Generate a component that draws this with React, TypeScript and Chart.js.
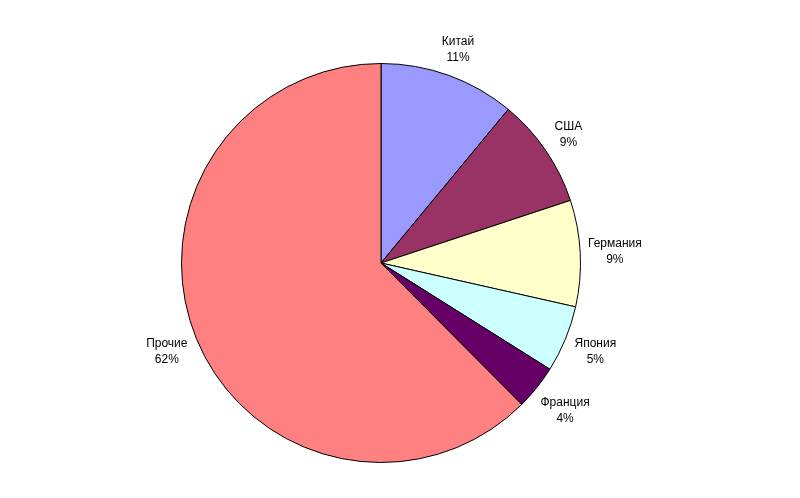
import React, { useEffect, useRef } from "react";
import { Chart, registerables } from "chart.js";

Chart.register(...registerables);

const categories = ["Китай", "США", "Германия", "Япония", "Франция", "Прочие"];
const shares = [11.0, 8.9, 8.6, 5.4, 3.6, 62.4];
const colors = ["#9999FF", "#993366", "#FFFFCC", "#CCFFFF", "#660066", "#FF8080"];

const labelPlugin = {
  id: "outsideLabels",
  afterDatasetsDraw(chart: any) {
    const ctx = chart.ctx;
    const meta = chart.getDatasetMeta(0);
    const data = chart.data.datasets[0].data as number[];
    const total = data.reduce((a, b) => a + b, 0);
    ctx.save();
    ctx.font = "12px 'Liberation Sans', Arial, sans-serif";
    ctx.fillStyle = "#000";
    ctx.textAlign = "center";
    ctx.textBaseline = "middle";
    const lineH = 16;
    const gap = 7;
    meta.data.forEach((arc: any, i: number) => {
      const { x, y, startAngle, endAngle, outerRadius } = arc.getProps(
        ["x", "y", "startAngle", "endAngle", "outerRadius"],
        true
      );
      const mid = (startAngle + endAngle) / 2;
      const lines = [chart.data.labels[i] as string, Math.round((data[i] / total) * 100) + "%"];
      const w = Math.max(...lines.map((l) => ctx.measureText(l).width));
      const hw = w / 2;
      const hh = (lines.length * lineH) / 2;
      const c = Math.cos(mid);
      const s = Math.sin(mid);
      const d = outerRadius + gap + hw * Math.abs(c) + hh * Math.abs(s);
      const cx = x + d * c;
      const cy = y + d * s;
      lines.forEach((l, k) => {
        ctx.fillText(l, cx, cy - hh + lineH / 2 + k * lineH);
      });
    });
    ctx.restore();
  },
};

export default function App() {
  const ref = useRef<HTMLCanvasElement>(null);
  useEffect(() => {
    document.body.style.margin = "0";
    const chart = new Chart(ref.current!, {
      type: "pie",
      data: {
        labels: categories,
        datasets: [
          {
            data: shares,
            backgroundColor: colors,
            borderColor: "#000000",
            borderWidth: 1,
            hoverOffset: 0,
            offset: 0,
          },
        ],
      },
      options: {
        responsive: false,
        animation: false,
        layout: { padding: { left: 181, right: 219, top: 63, bottom: 35 } },
        plugins: {
          legend: { display: false },
          tooltip: { enabled: false },
        },
      },
      plugins: [labelPlugin],
    });
    return () => chart.destroy();
  }, []);
  return (
    <div style={{ width: 800, height: 498, background: "#fff" }}>
      <canvas ref={ref} width={800} height={498} />
    </div>
  );
}
